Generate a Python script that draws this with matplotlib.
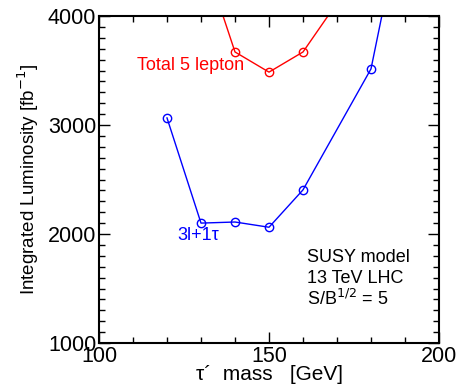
import matplotlib.pyplot as plt
from matplotlib.ticker import MultipleLocator

plt.rcParams['font.family'] = ['Liberation Sans', 'DejaVu Sans']

# 3l+1tau channel
massBlue = [120, 130, 140, 150, 160, 180, 190]
lumiBlue = [3065, 2100, 2110, 2062, 2405, 3515, 5040]
# total 5 lepton
massRed = [130, 140, 150, 160, 170]
lumiRed = [4610, 3670, 3485, 3670, 4120]

fig = plt.figure(figsize=(4.61, 3.85), dpi=100)
ax = fig.add_axes([99/461, 1 - 343/385, 340/461, 327/385])

ax.plot(massBlue, lumiBlue, color='#0000ff', lw=1, marker='o', ms=6,
        mfc='none', mec='#0000ff', mew=1)
ax.plot(massRed, lumiRed, color='#ff0000', lw=1, marker='o', ms=6,
        mfc='none', mec='#ff0000', mew=1)

ax.set_xlim(100, 200)
ax.set_ylim(1000, 4000)
ax.xaxis.set_major_locator(MultipleLocator(50))
ax.xaxis.set_minor_locator(MultipleLocator(10))
ax.yaxis.set_major_locator(MultipleLocator(1000))
ax.yaxis.set_minor_locator(MultipleLocator(100))
ax.tick_params(which='both', direction='in', top=True, right=True, width=1)
ax.tick_params(which='major', length=8, labelsize=15.5, pad=2)
ax.tick_params(which='minor', length=4)
for s in ax.spines.values():
    s.set_linewidth(1.5)

ax.set_xlabel("τ´  mass   [GeV]", fontsize=15, labelpad=-1)
ax.set_ylabel("Integrated Luminosity [fb$^{-1}$]", fontsize=13.5, labelpad=5)

ax.text(0.112, 0.835, "Total 5 lepton", color='#ff0000', fontsize=13,
        va='baseline', transform=ax.transAxes)
ax.text(0.229, 0.315, "3l+1τ", color='#0000ff', fontsize=13,
        va='baseline', transform=ax.transAxes)
ax.text(0.612, 0.248, "SUSY model", fontsize=13, va='baseline', transform=ax.transAxes)
ax.text(0.612, 0.182, "13 TeV LHC", fontsize=13, va='baseline', transform=ax.transAxes)
ax.text(0.612, 0.116, "S/B$^{1/2}$ = 5", fontsize=13, va='baseline', transform=ax.transAxes)

plt.savefig("out.png", dpi=100)
